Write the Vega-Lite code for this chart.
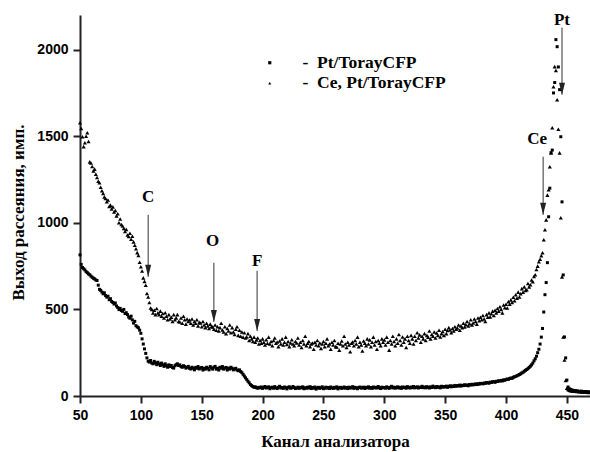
{
"$schema":"https://vega.github.io/schema/vega-lite/v6.json",
"width":510,"height":381,"autosize":"none",
"padding":{"left":80,"top":15,"right":0,"bottom":56},
"background":"white",
"config":{"view":{"stroke":null},
"axis":{"grid":false,"domainColor":"#222","domainWidth":2,"tickColor":"#222","tickWidth":2,"tickSize":7,"labelFont":"Liberation Sans","labelFontWeight":"bold","labelFontSize":14,"labelColor":"black","labelPadding":5,"titleFont":"Liberation Serif","titleFontWeight":"bold","titleFontSize":17,"titleColor":"black","labelFlush":false,"labelOverlap":false},
"legend":{"orient":"none","legendX":181,"legendY":39,"labelFont":"Liberation Serif","labelFontWeight":"bold","labelFontSize":17.5,"labelColor":"black","symbolSize":10,"labelOffset":24,"rowPadding":1.5,"padding":0,"symbolFillColor":"black","symbolStrokeColor":"black","symbolStrokeWidth":0}},
"datasets":{
"pt":[{"x":50,"y":815},{"x":51,"y":760},{"x":52,"y":742},{"x":53,"y":735},{"x":54,"y":728},{"x":55,"y":718},{"x":56,"y":712},{"x":57,"y":705},{"x":58,"y":700},{"x":59,"y":692},{"x":60,"y":686},{"x":61,"y":680},{"x":62,"y":676},{"x":63,"y":670},{"x":64,"y":667},{"x":65,"y":640},{"x":66,"y":616},{"x":67,"y":610},{"x":68,"y":600},{"x":69,"y":590},{"x":70,"y":596},{"x":71,"y":580},{"x":72,"y":571},{"x":73,"y":576},{"x":74,"y":556},{"x":75,"y":562},{"x":76,"y":546},{"x":77,"y":540},{"x":78,"y":531},{"x":79,"y":537},{"x":80,"y":520},{"x":81,"y":511},{"x":82,"y":499},{"x":83,"y":506},{"x":84,"y":494},{"x":85,"y":489},{"x":86,"y":500},{"x":87,"y":476},{"x":88,"y":481},{"x":89,"y":470},{"x":90,"y":456},{"x":91,"y":449},{"x":92,"y":461},{"x":93,"y":440},{"x":94,"y":421},{"x":95,"y":431},{"x":96,"y":406},{"x":97,"y":399},{"x":98,"y":394},{"x":99,"y":380},{"x":100,"y":362},{"x":101,"y":330},{"x":102,"y":300},{"x":103,"y":272},{"x":104,"y":246},{"x":105,"y":220},{"x":106,"y":201},{"x":107,"y":196},{"x":108,"y":205},{"x":109,"y":190},{"x":110,"y":186},{"x":111,"y":200},{"x":112,"y":191},{"x":113,"y":181},{"x":114,"y":195},{"x":115,"y":185},{"x":116,"y":176},{"x":117,"y":190},{"x":118,"y":180},{"x":119,"y":171},{"x":120,"y":186},{"x":121,"y":175},{"x":122,"y":166},{"x":123,"y":180},{"x":124,"y":170},{"x":125,"y":176},{"x":126,"y":165},{"x":127,"y":161},{"x":128,"y":175},{"x":129,"y":181},{"x":130,"y":186},{"x":131,"y":176},{"x":132,"y":180},{"x":133,"y":170},{"x":134,"y":166},{"x":135,"y":175},{"x":136,"y":170},{"x":137,"y":161},{"x":138,"y":166},{"x":139,"y":171},{"x":140,"y":160},{"x":141,"y":156},{"x":142,"y":166},{"x":143,"y":160},{"x":144,"y":151},{"x":145,"y":165},{"x":146,"y":160},{"x":147,"y":170},{"x":148,"y":156},{"x":149,"y":161},{"x":150,"y":165},{"x":151,"y":150},{"x":152,"y":160},{"x":153,"y":155},{"x":154,"y":166},{"x":155,"y":160},{"x":156,"y":151},{"x":157,"y":170},{"x":158,"y":161},{"x":159,"y":155},{"x":160,"y":166},{"x":161,"y":171},{"x":162,"y":155},{"x":163,"y":160},{"x":164,"y":150},{"x":165,"y":166},{"x":166,"y":160},{"x":167,"y":170},{"x":168,"y":155},{"x":169,"y":161},{"x":170,"y":165},{"x":171,"y":150},{"x":172,"y":161},{"x":173,"y":155},{"x":174,"y":166},{"x":175,"y":160},{"x":176,"y":151},{"x":177,"y":156},{"x":178,"y":160},{"x":179,"y":150},{"x":180,"y":146},{"x":181,"y":151},{"x":182,"y":141},{"x":183,"y":135},{"x":184,"y":125},{"x":185,"y":115},{"x":186,"y":105},{"x":187,"y":95},{"x":188,"y":85},{"x":189,"y":76},{"x":190,"y":66},{"x":191,"y":60},{"x":192,"y":55},{"x":193,"y":50},{"x":194,"y":53},{"x":195,"y":48},{"x":196,"y":45},{"x":197,"y":50},{"x":198,"y":47},{"x":199,"y":52},{"x":200,"y":44},{"x":201,"y":50},{"x":202,"y":55},{"x":203,"y":46},{"x":204,"y":49},{"x":205,"y":53},{"x":206,"y":42},{"x":207,"y":48},{"x":208,"y":51},{"x":209,"y":45},{"x":210,"y":54},{"x":211,"y":47},{"x":212,"y":43},{"x":213,"y":50},{"x":214,"y":56},{"x":215,"y":46},{"x":216,"y":49},{"x":217,"y":44},{"x":218,"y":52},{"x":219,"y":48},{"x":220,"y":41},{"x":221,"y":50},{"x":222,"y":53},{"x":223,"y":45},{"x":224,"y":47},{"x":225,"y":55},{"x":226,"y":49},{"x":227,"y":43},{"x":228,"y":46},{"x":229,"y":51},{"x":230,"y":44},{"x":231,"y":50},{"x":232,"y":47},{"x":233,"y":53},{"x":234,"y":42},{"x":235,"y":48},{"x":236,"y":45},{"x":237,"y":51},{"x":238,"y":46},{"x":239,"y":54},{"x":240,"y":43},{"x":241,"y":49},{"x":242,"y":45},{"x":243,"y":52},{"x":244,"y":40},{"x":245,"y":47},{"x":246,"y":50},{"x":247,"y":44},{"x":248,"y":48},{"x":249,"y":53},{"x":250,"y":42},{"x":251,"y":46},{"x":252,"y":51},{"x":253,"y":45},{"x":254,"y":49},{"x":255,"y":43},{"x":256,"y":52},{"x":257,"y":47},{"x":258,"y":44},{"x":259,"y":50},{"x":260,"y":46},{"x":261,"y":53},{"x":262,"y":41},{"x":263,"y":48},{"x":264,"y":50},{"x":265,"y":44},{"x":266,"y":47},{"x":267,"y":52},{"x":268,"y":45},{"x":269,"y":49},{"x":270,"y":43},{"x":271,"y":51},{"x":272,"y":46},{"x":273,"y":48},{"x":274,"y":54},{"x":275,"y":44},{"x":276,"y":50},{"x":277,"y":47},{"x":278,"y":42},{"x":279,"y":49},{"x":280,"y":52},{"x":281,"y":45},{"x":282,"y":48},{"x":283,"y":51},{"x":284,"y":43},{"x":285,"y":50},{"x":286,"y":47},{"x":287,"y":53},{"x":288,"y":45},{"x":289,"y":49},{"x":290,"y":44},{"x":291,"y":52},{"x":292,"y":47},{"x":293,"y":50},{"x":294,"y":46},{"x":295,"y":55},{"x":296,"y":48},{"x":297,"y":43},{"x":298,"y":51},{"x":299,"y":47},{"x":300,"y":49},{"x":301,"y":45},{"x":302,"y":53},{"x":303,"y":48},{"x":304,"y":44},{"x":305,"y":50},{"x":306,"y":56},{"x":307,"y":47},{"x":308,"y":51},{"x":309,"y":45},{"x":310,"y":49},{"x":311,"y":53},{"x":312,"y":46},{"x":313,"y":50},{"x":314,"y":44},{"x":315,"y":52},{"x":316,"y":48},{"x":317,"y":51},{"x":318,"y":45},{"x":319,"y":54},{"x":320,"y":49},{"x":321,"y":46},{"x":322,"y":52},{"x":323,"y":48},{"x":324,"y":55},{"x":325,"y":47},{"x":326,"y":50},{"x":327,"y":53},{"x":328,"y":46},{"x":329,"y":51},{"x":330,"y":49},{"x":331,"y":56},{"x":332,"y":48},{"x":333,"y":52},{"x":334,"y":47},{"x":335,"y":54},{"x":336,"y":50},{"x":337,"y":46},{"x":338,"y":53},{"x":339,"y":49},{"x":340,"y":57},{"x":341,"y":51},{"x":342,"y":48},{"x":343,"y":55},{"x":344,"y":50},{"x":345,"y":53},{"x":346,"y":47},{"x":347,"y":56},{"x":348,"y":51},{"x":349,"y":54},{"x":350,"y":52},{"x":351,"y":57},{"x":352,"y":50},{"x":353,"y":55},{"x":354,"y":59},{"x":355,"y":53},{"x":356,"y":58},{"x":357,"y":55},{"x":358,"y":61},{"x":359,"y":56},{"x":360,"y":60},{"x":361,"y":58},{"x":362,"y":63},{"x":363,"y":57},{"x":364,"y":62},{"x":365,"y":60},{"x":366,"y":65},{"x":367,"y":61},{"x":368,"y":64},{"x":369,"y":59},{"x":370,"y":66},{"x":371,"y":63},{"x":372,"y":68},{"x":373,"y":64},{"x":374,"y":67},{"x":375,"y":70},{"x":376,"y":66},{"x":377,"y":71},{"x":378,"y":68},{"x":379,"y":73},{"x":380,"y":72},{"x":381,"y":70},{"x":382,"y":75},{"x":383,"y":73},{"x":384,"y":78},{"x":385,"y":76},{"x":386,"y":74},{"x":387,"y":80},{"x":388,"y":78},{"x":389,"y":83},{"x":390,"y":82},{"x":391,"y":79},{"x":392,"y":85},{"x":393,"y":84},{"x":394,"y":88},{"x":395,"y":86},{"x":396,"y":90},{"x":397,"y":87},{"x":398,"y":93},{"x":399,"y":91},{"x":400,"y":95},{"x":401,"y":98},{"x":402,"y":96},{"x":403,"y":101},{"x":404,"y":104},{"x":405,"y":102},{"x":406,"y":108},{"x":407,"y":111},{"x":408,"y":113},{"x":409,"y":117},{"x":410,"y":120},{"x":411,"y":124},{"x":412,"y":128},{"x":413,"y":133},{"x":414,"y":137},{"x":415,"y":143},{"x":416,"y":148},{"x":417,"y":153},{"x":418,"y":158},{"x":419,"y":165},{"x":420,"y":172},{"x":421,"y":180},{"x":422,"y":190},{"x":423,"y":203},{"x":424,"y":215},{"x":425,"y":230},{"x":426,"y":250},{"x":427,"y":270},{"x":428,"y":300},{"x":429,"y":340},{"x":430,"y":390},{"x":431,"y":485},{"x":432,"y":585},{"x":433,"y":655},{"x":434,"y":770},{"x":435,"y":1035},{"x":436,"y":1200},{"x":437,"y":1405},{"x":438,"y":1420},{"x":439,"y":1750},{"x":440,"y":1810},{"x":441,"y":2058},{"x":442,"y":2017},{"x":443,"y":1900},{"x":444,"y":1769},{"x":445,"y":1497},{"x":446,"y":1121},{"x":447,"y":699},{"x":448,"y":341},{"x":449,"y":220},{"x":450,"y":92},{"x":451,"y":52},{"x":452,"y":42},{"x":453,"y":38},{"x":454,"y":35},{"x":455,"y":33},{"x":456,"y":30},{"x":457,"y":31},{"x":458,"y":28},{"x":459,"y":29},{"x":460,"y":27},{"x":461,"y":26},{"x":462,"y":28},{"x":463,"y":25},{"x":464,"y":26},{"x":465,"y":24},{"x":466,"y":25},{"x":467,"y":23},{"x":468,"y":24},{"x":469,"y":22}],
"ce":[{"x":50,"y":1578},{"x":51,"y":1545},{"x":52,"y":1497},{"x":53,"y":1440},{"x":54,"y":1462},{"x":55,"y":1500},{"x":56,"y":1520},{"x":57,"y":1470},{"x":58,"y":1352},{"x":59,"y":1345},{"x":60,"y":1325},{"x":61,"y":1300},{"x":62,"y":1310},{"x":63,"y":1280},{"x":64,"y":1262},{"x":65,"y":1240},{"x":66,"y":1231},{"x":67,"y":1205},{"x":68,"y":1185},{"x":69,"y":1170},{"x":70,"y":1150},{"x":71,"y":1140},{"x":72,"y":1122},{"x":73,"y":1132},{"x":74,"y":1094},{"x":75,"y":1102},{"x":76,"y":1080},{"x":77,"y":1092},{"x":78,"y":1062},{"x":79,"y":1071},{"x":80,"y":1040},{"x":81,"y":1052},{"x":82,"y":1000},{"x":83,"y":1022},{"x":84,"y":990},{"x":85,"y":982},{"x":86,"y":968},{"x":87,"y":950},{"x":88,"y":962},{"x":89,"y":930},{"x":90,"y":921},{"x":91,"y":940},{"x":92,"y":905},{"x":93,"y":922},{"x":94,"y":890},{"x":95,"y":870},{"x":96,"y":850},{"x":97,"y":828},{"x":98,"y":812},{"x":99,"y":772},{"x":100,"y":746},{"x":101,"y":722},{"x":102,"y":682},{"x":103,"y":662},{"x":104,"y":640},{"x":105,"y":592},{"x":106,"y":572},{"x":107,"y":540},{"x":108,"y":508},{"x":109,"y":500},{"x":110,"y":480},{"x":111,"y":495},{"x":112,"y":470},{"x":113,"y":505},{"x":114,"y":480},{"x":115,"y":470},{"x":116,"y":490},{"x":117,"y":460},{"x":118,"y":476},{"x":119,"y":450},{"x":120,"y":481},{"x":121,"y":461},{"x":122,"y":440},{"x":123,"y":470},{"x":124,"y":445},{"x":125,"y":455},{"x":126,"y":430},{"x":127,"y":470},{"x":128,"y":440},{"x":129,"y":451},{"x":130,"y":470},{"x":131,"y":430},{"x":132,"y":428},{"x":133,"y":450},{"x":134,"y":420},{"x":135,"y":460},{"x":136,"y":440},{"x":137,"y":415},{"x":138,"y":445},{"x":139,"y":430},{"x":140,"y":439},{"x":141,"y":420},{"x":142,"y":445},{"x":143,"y":410},{"x":144,"y":430},{"x":145,"y":420},{"x":146,"y":440},{"x":147,"y":405},{"x":148,"y":425},{"x":149,"y":422},{"x":150,"y":400},{"x":151,"y":430},{"x":152,"y":410},{"x":153,"y":395},{"x":154,"y":420},{"x":155,"y":405},{"x":156,"y":390},{"x":157,"y":415},{"x":158,"y":400},{"x":159,"y":399},{"x":160,"y":385},{"x":161,"y":410},{"x":162,"y":380},{"x":163,"y":400},{"x":164,"y":375},{"x":165,"y":395},{"x":166,"y":420},{"x":167,"y":381},{"x":168,"y":370},{"x":169,"y":400},{"x":170,"y":360},{"x":171,"y":390},{"x":172,"y":375},{"x":173,"y":410},{"x":174,"y":365},{"x":175,"y":395},{"x":176,"y":370},{"x":177,"y":355},{"x":178,"y":385},{"x":179,"y":400},{"x":180,"y":350},{"x":181,"y":380},{"x":182,"y":345},{"x":183,"y":370},{"x":184,"y":340},{"x":185,"y":365},{"x":186,"y":335},{"x":187,"y":341},{"x":188,"y":360},{"x":189,"y":320},{"x":190,"y":345},{"x":191,"y":330},{"x":192,"y":315},{"x":193,"y":340},{"x":194,"y":310},{"x":195,"y":324},{"x":196,"y":335},{"x":197,"y":300},{"x":198,"y":320},{"x":199,"y":305},{"x":200,"y":330},{"x":201,"y":310},{"x":202,"y":295},{"x":203,"y":325},{"x":204,"y":305},{"x":205,"y":340},{"x":206,"y":300},{"x":207,"y":315},{"x":208,"y":290},{"x":209,"y":320},{"x":210,"y":335},{"x":211,"y":305},{"x":212,"y":312},{"x":213,"y":285},{"x":214,"y":318},{"x":215,"y":300},{"x":216,"y":330},{"x":217,"y":295},{"x":218,"y":310},{"x":219,"y":340},{"x":220,"y":298},{"x":221,"y":315},{"x":222,"y":285},{"x":223,"y":306},{"x":224,"y":325},{"x":225,"y":300},{"x":226,"y":290},{"x":227,"y":315},{"x":228,"y":306},{"x":229,"y":335},{"x":230,"y":295},{"x":231,"y":310},{"x":232,"y":280},{"x":233,"y":320},{"x":234,"y":300},{"x":235,"y":345},{"x":236,"y":290},{"x":237,"y":305},{"x":238,"y":315},{"x":239,"y":285},{"x":240,"y":300},{"x":241,"y":306},{"x":242,"y":270},{"x":243,"y":310},{"x":244,"y":295},{"x":245,"y":320},{"x":246,"y":290},{"x":247,"y":306},{"x":248,"y":275},{"x":249,"y":300},{"x":250,"y":315},{"x":251,"y":285},{"x":252,"y":305},{"x":253,"y":330},{"x":254,"y":290},{"x":255,"y":300},{"x":256,"y":270},{"x":257,"y":310},{"x":258,"y":295},{"x":259,"y":320},{"x":260,"y":285},{"x":261,"y":283},{"x":262,"y":305},{"x":263,"y":265},{"x":264,"y":300},{"x":265,"y":318},{"x":266,"y":290},{"x":267,"y":345},{"x":268,"y":300},{"x":269,"y":280},{"x":270,"y":310},{"x":271,"y":295},{"x":272,"y":255},{"x":273,"y":305},{"x":274,"y":312},{"x":275,"y":290},{"x":276,"y":320},{"x":277,"y":300},{"x":278,"y":340},{"x":279,"y":285},{"x":280,"y":310},{"x":281,"y":295},{"x":282,"y":260},{"x":283,"y":318},{"x":284,"y":305},{"x":285,"y":290},{"x":286,"y":330},{"x":287,"y":300},{"x":288,"y":324},{"x":289,"y":285},{"x":290,"y":310},{"x":291,"y":340},{"x":292,"y":295},{"x":293,"y":315},{"x":294,"y":270},{"x":295,"y":320},{"x":296,"y":305},{"x":297,"y":290},{"x":298,"y":330},{"x":299,"y":310},{"x":300,"y":324},{"x":301,"y":295},{"x":302,"y":340},{"x":303,"y":310},{"x":304,"y":265},{"x":305,"y":320},{"x":306,"y":300},{"x":307,"y":345},{"x":308,"y":315},{"x":309,"y":290},{"x":310,"y":330},{"x":311,"y":305},{"x":312,"y":355},{"x":313,"y":320},{"x":314,"y":295},{"x":315,"y":341},{"x":316,"y":310},{"x":317,"y":330},{"x":318,"y":280},{"x":319,"y":345},{"x":320,"y":320},{"x":321,"y":305},{"x":322,"y":350},{"x":323,"y":330},{"x":324,"y":300},{"x":325,"y":345},{"x":326,"y":320},{"x":327,"y":365},{"x":328,"y":335},{"x":329,"y":353},{"x":330,"y":310},{"x":331,"y":345},{"x":332,"y":330},{"x":333,"y":360},{"x":334,"y":320},{"x":335,"y":350},{"x":336,"y":340},{"x":337,"y":375},{"x":338,"y":330},{"x":339,"y":355},{"x":340,"y":345},{"x":341,"y":370},{"x":342,"y":335},{"x":343,"y":364},{"x":344,"y":350},{"x":345,"y":380},{"x":346,"y":341},{"x":347,"y":360},{"x":348,"y":372},{"x":349,"y":350},{"x":350,"y":385},{"x":351,"y":360},{"x":352,"y":378},{"x":353,"y":395},{"x":354,"y":381},{"x":355,"y":365},{"x":356,"y":390},{"x":357,"y":375},{"x":358,"y":400},{"x":359,"y":385},{"x":360,"y":393},{"x":361,"y":410},{"x":362,"y":380},{"x":363,"y":405},{"x":364,"y":395},{"x":365,"y":420},{"x":366,"y":398},{"x":367,"y":412},{"x":368,"y":430},{"x":369,"y":405},{"x":370,"y":418},{"x":371,"y":440},{"x":372,"y":410},{"x":373,"y":422},{"x":374,"y":445},{"x":375,"y":430},{"x":376,"y":415},{"x":377,"y":450},{"x":378,"y":435},{"x":379,"y":455},{"x":380,"y":440},{"x":381,"y":465},{"x":382,"y":445},{"x":383,"y":430},{"x":384,"y":470},{"x":385,"y":455},{"x":386,"y":480},{"x":387,"y":457},{"x":388,"y":475},{"x":389,"y":490},{"x":390,"y":465},{"x":391,"y":495},{"x":392,"y":480},{"x":393,"y":505},{"x":394,"y":490},{"x":395,"y":515},{"x":396,"y":500},{"x":397,"y":480},{"x":398,"y":525},{"x":399,"y":510},{"x":400,"y":530},{"x":401,"y":508},{"x":402,"y":545},{"x":403,"y":530},{"x":404,"y":555},{"x":405,"y":540},{"x":406,"y":570},{"x":407,"y":550},{"x":408,"y":585},{"x":409,"y":565},{"x":410,"y":600},{"x":411,"y":572},{"x":412,"y":590},{"x":413,"y":620},{"x":414,"y":600},{"x":415,"y":630},{"x":416,"y":610},{"x":417,"y":613},{"x":418,"y":650},{"x":419,"y":630},{"x":420,"y":642},{"x":421,"y":670},{"x":422,"y":660},{"x":423,"y":690},{"x":424,"y":700},{"x":425,"y":730},{"x":426,"y":750},{"x":427,"y":775},{"x":428,"y":790},{"x":429,"y":810},{"x":430,"y":827},{"x":431,"y":902},{"x":432,"y":960},{"x":433,"y":1017},{"x":434,"y":1160},{"x":435,"y":1191},{"x":436,"y":1324},{"x":437,"y":1404},{"x":438,"y":1549},{"x":439,"y":1786},{"x":440,"y":1902},{"x":441,"y":1880},{"x":442,"y":1711},{"x":443,"y":1540},{"x":444,"y":1404},{"x":445,"y":1029},{"x":446,"y":688},{"x":447,"y":341},{"x":448,"y":208},{"x":449,"y":90},{"x":450,"y":45},{"x":451,"y":38},{"x":452,"y":34},{"x":453,"y":31},{"x":454,"y":30},{"x":455,"y":28},{"x":456,"y":27},{"x":457,"y":29},{"x":458,"y":26},{"x":459,"y":27},{"x":460,"y":25},{"x":461,"y":26},{"x":462,"y":24},{"x":463,"y":25},{"x":464,"y":23},{"x":465,"y":24},{"x":466,"y":22},{"x":467,"y":23},{"x":468,"y":21},{"x":469,"y":22}],
"ann":[{"lab":"C","x":106,"y0":1046,"y1":688,"tx":106,"ty":1150},{"lab":"O","x":160,"y0":769,"y1":428,"tx":159,"ty":896},{"lab":"F","x":195.5,"y0":723,"y1":376,"tx":195.5,"ty":780},{"lab":"Ce","x":430.5,"y0":1382,"y1":1046,"tx":425.5,"ty":1486},{"lab":"Pt","x":446,"y0":2127,"y1":1740,"tx":446,"ty":2173}]
},
"layer":[
{"data":{"name":"pt"},"mark":{"type":"point","filled":true,"size":9,"color":"black","opacity":1},
"encoding":{
"x":{"field":"x","type":"quantitative","scale":{"domain":[50,469],"nice":false,"zero":false},"axis":{"values":[50,100,150,200,250,300,350,400,450],"format":"d","title":"Канал анализатора","titlePadding":11}},
"y":{"field":"y","type":"quantitative","scale":{"domain":[0,2200],"nice":false},"axis":{"values":[0,500,1000,1500,2000],"format":"d","title":"Выход рассеяния, имп.","titlePadding":9,"titleY":197}},
"shape":{"datum":"Pt/TorayCFP","type":"nominal","scale":{"domain":["Pt/TorayCFP","Ce, Pt/TorayCFP"],"range":["square","triangle-up"]},"legend":{"title":null,"labelExpr":"'-\u00a0\u00a0' + datum.label"}}}},
{"data":{"name":"ce"},"mark":{"type":"point","filled":true,"size":17,"color":"black","opacity":1},
"encoding":{"x":{"field":"x","type":"quantitative"},"y":{"field":"y","type":"quantitative"},"shape":{"datum":"Ce, Pt/TorayCFP","type":"nominal"}}},
{"data":{"name":"ann"},"mark":{"type":"rule","color":"#333","strokeWidth":1},
"encoding":{"x":{"field":"x","type":"quantitative"},"y":{"field":"y0","type":"quantitative"},"y2":{"field":"y1"}}},
{"data":{"name":"ann"},"mark":{"type":"point","shape":"M-0.6,-2.4L0.6,-2.4L0,0Z","filled":true,"size":100,"color":"#222","opacity":1},
"encoding":{"x":{"field":"x","type":"quantitative"},"y":{"field":"y1","type":"quantitative"}}},
{"data":{"name":"ann"},"mark":{"type":"text","font":"Liberation Serif","fontWeight":"bold","fontSize":17,"baseline":"middle","align":"center","color":"black"},
"encoding":{"x":{"field":"tx","type":"quantitative"},"y":{"field":"ty","type":"quantitative"},"text":{"field":"lab"}}}
]
}
